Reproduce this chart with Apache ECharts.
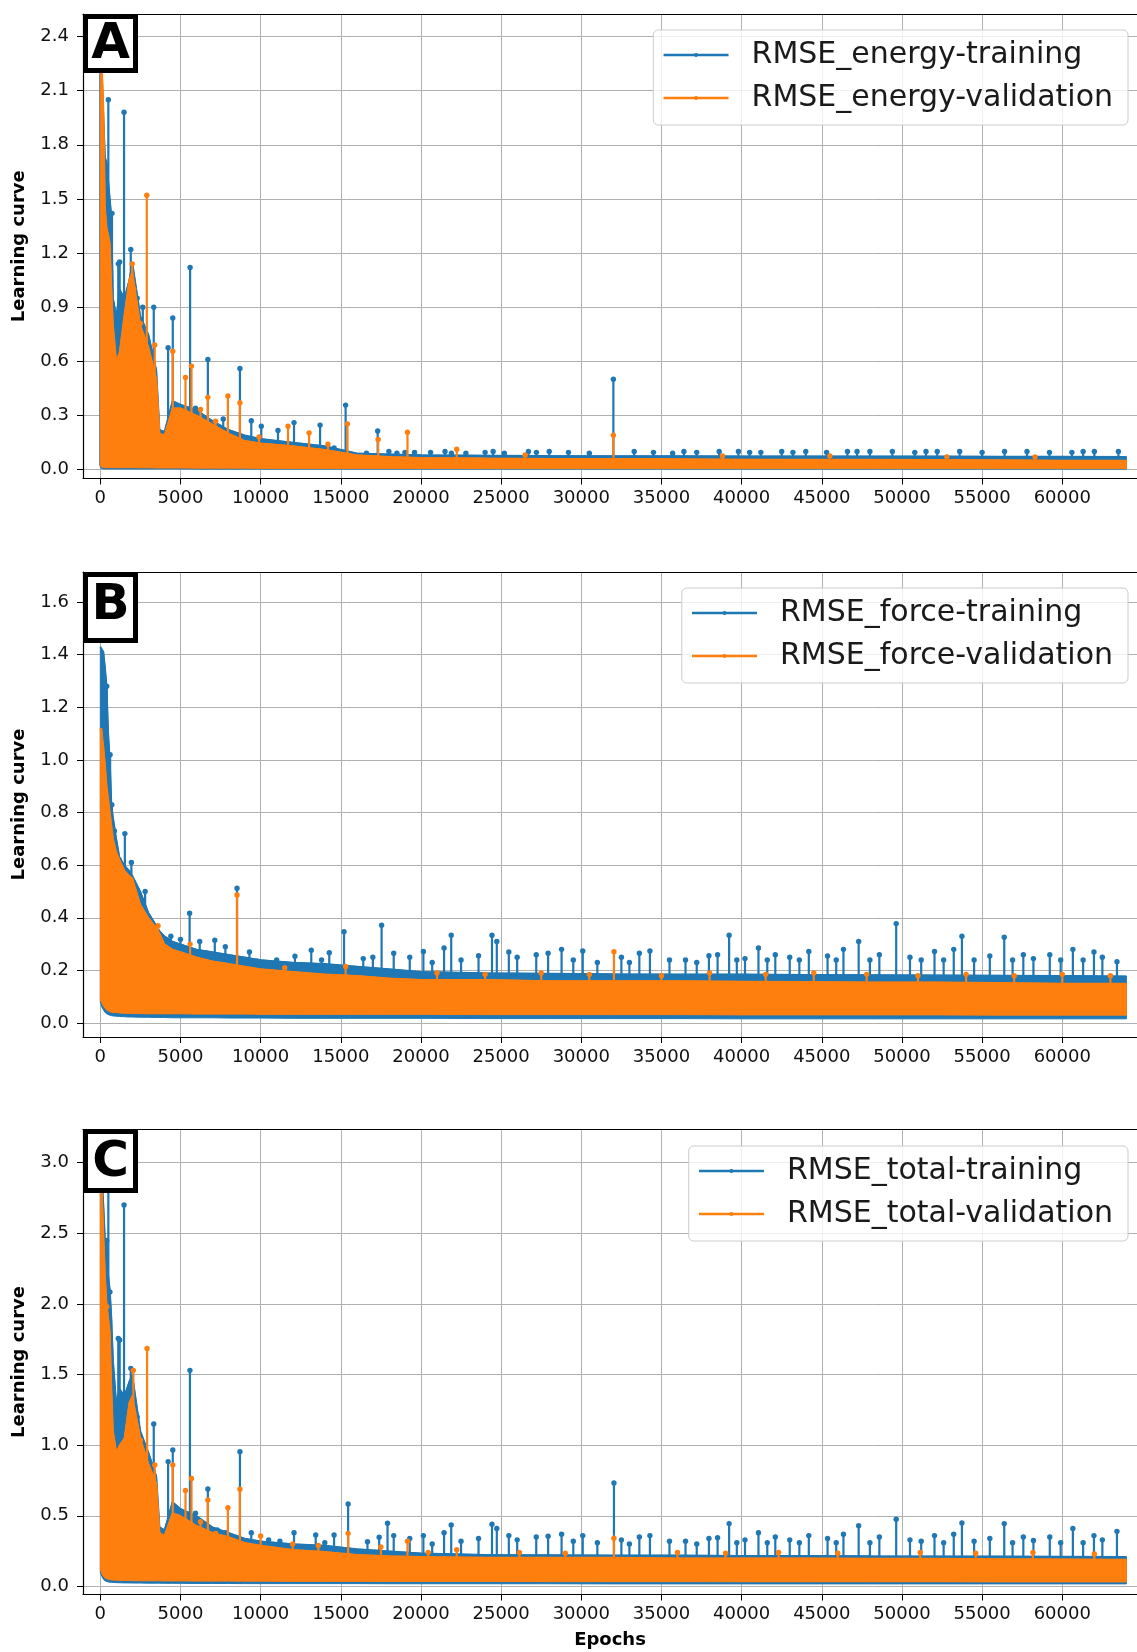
<!DOCTYPE html>
<html>
<head>
<meta charset="utf-8">
<script src="https://cdn.jsdelivr.net/npm/echarts@6/dist/echarts.min.js"></script>
<style>
html,body{margin:0;padding:0;background:#fff;}
#chart{width:1137px;height:1652px;}
</style>
</head>
<body>
<div id="chart"></div>
<script>
// ---------------- DATA ----------------
const xTicks = [0, 5000, 10000, 15000, 20000, 25000, 30000, 35000, 40000, 45000, 50000, 55000, 60000];
const yTicksA = [0, 0.3, 0.6, 0.9, 1.2, 1.5, 1.8, 2.1, 2.4];
const yTicksB = [0, 0.2, 0.4, 0.6, 0.8, 1.0, 1.2, 1.4, 1.6];
const yTicksC = [0, 0.5, 1.0, 1.5, 2.0, 2.5, 3.0];

const seriesNames = ['RMSE_energy-training', 'RMSE_energy-validation',
                     'RMSE_force-training', 'RMSE_force-validation',
                     'RMSE_total-training', 'RMSE_total-validation'];

// epochs at which the envelope of the dense noisy band was read
const bandEpochs = [0, 100, 200, 300, 400, 500, 600, 700, 800, 1000, 1200, 1500, 1800, 2000,
  2500, 3000, 3500, 3700, 4000, 4500, 5000, 6000, 7000, 8000, 9000, 10000, 12000, 14000,
  16000, 18000, 20000, 24000, 28000, 32000, 36000, 40000, 44000, 48000, 52000, 56000, 60000, 64000];

// ---- Panel A : energy ----
const energyTrainUpper = [2.40, 2.20, 1.95, 1.73, 1.70, 1.60, 1.50, 1.40, 0.95, 0.85, 1.00, 0.95, 1.05, 1.15,
  0.85, 0.75, 0.55, 0.22, 0.21, 0.38, 0.36, 0.33, 0.27, 0.22, 0.19, 0.17, 0.15, 0.13,
  0.09, 0.085, 0.08, 0.078, 0.076, 0.075, 0.075, 0.074, 0.074, 0.073, 0.073, 0.072, 0.072, 0.07];
const energyTrainLower = [0.01, 0.005, 0.003, 0.003, 0.003, 0.003, 0.003, 0.003, 0.003, 0.003, 0.003, 0.003, 0.003, 0.003,
  0.003, 0.003, 0.003, 0.003, 0.003, 0.003, 0.003, 0.002, 0.002, 0.002, 0.002, 0.002, 0.002, 0.002,
  0.002, 0.002, 0.002, 0.002, 0.002, 0.002, 0.002, 0.002, 0.002, 0.002, 0.002, 0.002, 0.002, 0.002];
const energyValidUpper = [2.30, 2.25, 2.00, 1.45, 1.34, 1.30, 1.25, 1.00, 0.80, 0.60, 0.65, 0.86, 1.05, 1.10,
  0.80, 0.68, 0.50, 0.20, 0.19, 0.34, 0.34, 0.30, 0.25, 0.20, 0.16, 0.145, 0.13, 0.11,
  0.08, 0.07, 0.065, 0.062, 0.06, 0.06, 0.058, 0.056, 0.055, 0.055, 0.054, 0.052, 0.05, 0.05];
const energyValidLower = [0.02, 0.012, 0.01, 0.01, 0.01, 0.01, 0.01, 0.01, 0.01, 0.01, 0.01, 0.01, 0.01, 0.01,
  0.009, 0.009, 0.008, 0.008, 0.008, 0.008, 0.008, 0.007, 0.007, 0.007, 0.007, 0.006, 0.006, 0.006,
  0.006, 0.006, 0.006, 0.005, 0.005, 0.005, 0.005, 0.005, 0.005, 0.005, 0.005, 0.005, 0.005, 0.005];
const energyTrainSpikes = [[0, 2.52], [500, 2.05], [729, 1.42], [1120, 1.14], [1208, 1.15], [1480, 1.98], [1900, 1.22],
  [2300, 0.95], [2650, 0.9], [3333, 0.90], [4229, 0.675], [4520, 0.84], [5600, 1.12], [5937, 0.34], [6708, 0.61],
  [7666, 0.28], [8708, 0.56], [9416, 0.27], [10040, 0.24], [10620, 0.15], [11082, 0.216], [12082, 0.26],
  [12500, 0.13], [13707, 0.246], [14580, 0.12], [15300, 0.357], [16600, 0.09], [17300, 0.213], [18000, 0.1],
  [18500, 0.09], [19000, 0.095], [19600, 0.095], [20600, 0.095], [21500, 0.1], [21900, 0.09], [22800, 0.09],
  [24000, 0.095], [24500, 0.1], [25200, 0.09], [26700, 0.1], [27200, 0.095], [28000, 0.1], [29200, 0.095],
  [30500, 0.09], [32000, 0.50], [33300, 0.1], [34500, 0.095], [35700, 0.09], [36400, 0.1], [37200, 0.095],
  [38600, 0.1], [39800, 0.1], [40500, 0.095], [41200, 0.095], [42500, 0.1], [43200, 0.095], [44000, 0.1],
  [45300, 0.095], [46600, 0.1], [47200, 0.1], [48000, 0.1], [49400, 0.1], [50800, 0.095], [51500, 0.1],
  [52200, 0.1], [53600, 0.1], [55000, 0.095], [56400, 0.1], [57800, 0.1], [59200, 0.095], [60600, 0.095],
  [61300, 0.1], [62000, 0.1], [63500, 0.1]];
const energyValidSpikes = [[1990, 1.14], [2083, 1.0], [2500, 0.81], [2900, 1.52], [3395, 0.69], [4520, 0.656],
  [5312, 0.51], [5687, 0.573], [6250, 0.333], [6708, 0.40], [7187, 0.268], [7957, 0.407], [8708, 0.37],
  [9900, 0.18], [11707, 0.24], [13020, 0.203], [14200, 0.14], [15415, 0.253], [17330, 0.166], [19160, 0.206],
  [22230, 0.112], [26500, 0.08], [32000, 0.19], [38800, 0.075], [45500, 0.075], [52800, 0.07], [58300, 0.07]];

// ---- Panel B : force ----
const forceTrainUpper = [1.43, 1.42, 1.41, 1.35, 1.28, 1.10, 1.00, 0.83, 0.78, 0.70, 0.63, 0.60, 0.58, 0.56,
  0.50, 0.42, 0.37, 0.35, 0.33, 0.31, 0.30, 0.28, 0.27, 0.26, 0.25, 0.24, 0.23, 0.225,
  0.215, 0.205, 0.195, 0.19, 0.188, 0.186, 0.185, 0.185, 0.184, 0.183, 0.182, 0.181, 0.18, 0.178];
const forceTrainLower = [0.08, 0.06, 0.05, 0.04, 0.035, 0.032, 0.03, 0.028, 0.027, 0.026, 0.025, 0.024, 0.023, 0.023,
  0.022, 0.022, 0.021, 0.021, 0.021, 0.02, 0.02, 0.02, 0.02, 0.019, 0.019, 0.019, 0.018, 0.018,
  0.018, 0.018, 0.018, 0.017, 0.017, 0.017, 0.017, 0.016, 0.016, 0.016, 0.016, 0.016, 0.016, 0.016];
const forceValidUpper = [1.12, 1.12, 1.05, 0.98, 0.90, 0.85, 0.80, 0.75, 0.70, 0.65, 0.62, 0.58, 0.56, 0.55,
  0.45, 0.40, 0.36, 0.34, 0.30, 0.28, 0.27, 0.25, 0.235, 0.225, 0.215, 0.205, 0.195, 0.185,
  0.18, 0.17, 0.165, 0.165, 0.16, 0.16, 0.16, 0.158, 0.157, 0.155, 0.155, 0.153, 0.15, 0.15];
const forceValidLower = [0.09, 0.075, 0.065, 0.055, 0.05, 0.045, 0.043, 0.041, 0.04, 0.04, 0.038, 0.037, 0.037, 0.036,
  0.036, 0.035, 0.035, 0.035, 0.035, 0.035, 0.035, 0.034, 0.034, 0.034, 0.034, 0.033, 0.033, 0.033,
  0.033, 0.033, 0.033, 0.032, 0.032, 0.032, 0.032, 0.031, 0.031, 0.031, 0.031, 0.03, 0.03, 0.03];
const forceTrainSpikes = [[400, 1.28], [612, 1.02], [714, 0.83], [877, 0.73], [1183, 0.62], [1530, 0.72], [1938, 0.61],
  [2795, 0.50], [3366, 0.34], [3978, 0.32], [4400, 0.33], [5000, 0.318], [5570, 0.417], [6200, 0.31], [7140, 0.315],
  [7800, 0.29], [8527, 0.512], [9300, 0.27], [9800, 0.235], [11000, 0.24], [12140, 0.254], [13158, 0.277],
  [13800, 0.24], [14280, 0.267], [15200, 0.347], [16400, 0.245], [17000, 0.25], [17544, 0.372], [18300, 0.265],
  [19300, 0.25], [20150, 0.272], [20700, 0.23], [21440, 0.285], [21886, 0.334], [22500, 0.24], [23590, 0.256],
  [24430, 0.334], [24730, 0.31], [25480, 0.27], [26000, 0.25], [27190, 0.26], [27930, 0.265], [28770, 0.28],
  [29500, 0.24], [30090, 0.274], [31000, 0.23], [32500, 0.25], [33000, 0.23], [33620, 0.265], [34280, 0.274],
  [35500, 0.24], [36500, 0.24], [37200, 0.23], [37960, 0.256], [38500, 0.26], [39220, 0.334], [39700, 0.24],
  [40210, 0.245], [41050, 0.285], [41600, 0.24], [42100, 0.26], [43000, 0.25], [43600, 0.24], [44190, 0.272],
  [45360, 0.255], [45900, 0.24], [46350, 0.28], [47300, 0.31], [48000, 0.24], [48590, 0.26], [49640, 0.378],
  [50500, 0.25], [51200, 0.24], [52030, 0.272], [52600, 0.24], [53230, 0.28], [53740, 0.33], [54500, 0.24],
  [55480, 0.255], [56380, 0.326], [56900, 0.24], [57570, 0.26], [58200, 0.245], [59220, 0.26], [59900, 0.24],
  [60660, 0.28], [61300, 0.24], [61975, 0.27], [62500, 0.25], [63410, 0.233]];
const forceValidSpikes = [[3600, 0.37], [5600, 0.30], [8527, 0.487], [11500, 0.21], [15300, 0.215], [21000, 0.19],
  [24000, 0.185], [27500, 0.19], [30500, 0.185], [32036, 0.271], [35000, 0.18], [38000, 0.19], [41500, 0.185],
  [44500, 0.19], [47800, 0.185], [51000, 0.18], [54000, 0.185], [57000, 0.18], [60000, 0.185], [63000, 0.18]];

// ---- Panel C : total ----
const totalTrainUpper = [3.00, 2.90, 2.70, 2.45, 2.45, 2.20, 2.10, 1.90, 1.60, 1.30, 1.40, 1.35, 1.45, 1.50,
  1.10, 0.95, 0.78, 0.42, 0.40, 0.60, 0.55, 0.50, 0.42, 0.38, 0.34, 0.32, 0.30, 0.29,
  0.265, 0.25, 0.235, 0.225, 0.222, 0.22, 0.22, 0.218, 0.217, 0.215, 0.214, 0.213, 0.212, 0.21];
const totalTrainLower = [0.1, 0.07, 0.05, 0.04, 0.035, 0.032, 0.03, 0.029, 0.028, 0.027, 0.026, 0.025, 0.025, 0.024,
  0.024, 0.023, 0.023, 0.023, 0.022, 0.022, 0.022, 0.021, 0.021, 0.021, 0.02, 0.02, 0.02, 0.02,
  0.02, 0.019, 0.019, 0.019, 0.019, 0.018, 0.018, 0.018, 0.018, 0.018, 0.018, 0.018, 0.018, 0.018];
const totalValidUpper = [2.90, 2.80, 2.50, 2.20, 2.00, 1.90, 1.80, 1.40, 1.10, 0.95, 1.00, 1.05, 1.30, 1.35,
  1.05, 0.87, 0.73, 0.38, 0.36, 0.52, 0.50, 0.43, 0.38, 0.35, 0.31, 0.29, 0.26, 0.245,
  0.225, 0.215, 0.21, 0.205, 0.205, 0.205, 0.20, 0.20, 0.20, 0.198, 0.197, 0.195, 0.193, 0.19];
const totalValidLower = [0.12, 0.09, 0.07, 0.06, 0.055, 0.05, 0.048, 0.046, 0.045, 0.044, 0.043, 0.042, 0.042, 0.041,
  0.04, 0.04, 0.04, 0.04, 0.039, 0.039, 0.039, 0.038, 0.038, 0.038, 0.037, 0.037, 0.036, 0.036,
  0.036, 0.035, 0.035, 0.035, 0.034, 0.034, 0.034, 0.033, 0.033, 0.033, 0.033, 0.032, 0.032, 0.032];
const totalTrainSpikes = [[400, 2.45], [500, 3.05], [600, 2.085], [1120, 1.756], [1208, 1.745], [1480, 2.70],
  [1900, 1.544], [2300, 1.2], [3333, 1.15], [4229, 0.884], [4520, 0.966], [5590, 1.53], [5937, 0.518], [6708, 0.69],
  [7291, 0.40], [7800, 0.38], [8708, 0.954], [9416, 0.381], [10500, 0.33], [11200, 0.32], [12082, 0.381],
  [13435, 0.364], [14000, 0.31], [14580, 0.364], [15456, 0.584], [16664, 0.317], [17393, 0.348], [17914, 0.447],
  [18300, 0.36], [19300, 0.34], [20150, 0.36], [20700, 0.3], [21440, 0.38], [21886, 0.435], [22500, 0.32],
  [23590, 0.34], [24430, 0.44], [24730, 0.41], [25480, 0.36], [26000, 0.33], [27190, 0.35], [27930, 0.355],
  [28770, 0.37], [29500, 0.32], [30090, 0.36], [31000, 0.31], [32036, 0.732], [32500, 0.33], [33000, 0.3],
  [33620, 0.35], [34280, 0.36], [35500, 0.32], [36500, 0.32], [37200, 0.3], [37960, 0.34], [38500, 0.345],
  [39220, 0.445], [39700, 0.31], [40210, 0.33], [41050, 0.38], [41600, 0.31], [42100, 0.35], [43000, 0.33],
  [43600, 0.31], [44190, 0.36], [45360, 0.34], [45900, 0.31], [46350, 0.37], [47300, 0.43], [48000, 0.31],
  [48590, 0.35], [49640, 0.476], [50500, 0.33], [51200, 0.32], [52030, 0.36], [52600, 0.31], [53230, 0.37],
  [53740, 0.45], [54500, 0.32], [55480, 0.34], [56380, 0.445], [56900, 0.31], [57570, 0.35], [58200, 0.325],
  [59220, 0.35], [59900, 0.31], [60660, 0.41], [61300, 0.31], [61975, 0.36], [62500, 0.33], [63410, 0.39]];
const totalValidSpikes = [[400, 1.98], [2060, 1.53], [2291, 0.966], [2500, 1.036], [2916, 1.685], [3395, 0.86],
  [4520, 0.86], [5312, 0.68], [5687, 0.765], [6250, 0.458], [6708, 0.612], [7187, 0.376], [7957, 0.557],
  [8708, 0.688], [10000, 0.357], [12000, 0.3], [13600, 0.29], [15456, 0.376], [17500, 0.28], [19160, 0.32],
  [20450, 0.24], [22230, 0.26], [26140, 0.24], [29000, 0.235], [32036, 0.342], [36000, 0.24], [39000, 0.235],
  [42300, 0.24], [46000, 0.235], [51140, 0.24], [54600, 0.235], [58170, 0.24], [62000, 0.23]];

// ---------------- LAYOUT / STYLE ----------------
const BLUE = '#1f77b4', ORANGE = '#ff7f0e', GRIDC = '#b0b0b0', FONT = 'DejaVu Sans';
const X_MIN = -1080, X_MAX = 64660;

const panels = [
  { label: 'A', top: 14, height: 464.5, yMin: -0.05, yMax: 2.525, yTicks: yTicksA, stalkFrom: 0.02,
    names: [seriesNames[0], seriesNames[1]],
    train: [energyTrainLower, energyTrainUpper, energyTrainSpikes],
    valid: [energyValidLower, energyValidUpper, energyValidSpikes],
    legendTop: 30, box: [85.5, 16.5, 50, 54], letterY: 45 },
  { label: 'B', top: 572, height: 465, yMin: -0.053, yMax: 1.714, yTicks: yTicksB, stalkFrom: 0.06,
    names: [seriesNames[2], seriesNames[3]],
    train: [forceTrainLower, forceTrainUpper, forceTrainSpikes],
    valid: [forceValidLower, forceValidUpper, forceValidSpikes],
    legendTop: 588, box: [85.5, 574.5, 50, 66], letterY: 606 },
  { label: 'C', top: 1129.5, height: 465, yMin: -0.057, yMax: 3.235, yTicks: yTicksC, stalkFrom: 0.07,
    names: [seriesNames[4], seriesNames[5]],
    train: [totalTrainLower, totalTrainUpper, totalTrainSpikes],
    valid: [totalValidLower, totalValidUpper, totalValidSpikes],
    legendTop: 1146, box: [85.5, 1131.5, 50, 59], letterY: 1163 }
];

const grids = [], xAxes = [], yAxes = [], series = [], legends = [], graphics = [];

// filled envelope of the dense oscillating curve, drawn through the axes' scales
function bandFill(name, lower, upper, color, gi, z) {
  const data = bandEpochs.map((e, i) => [e, lower[i], upper[i]]);
  return {
    type: 'custom', name: name + ' band', data: data, xAxisIndex: gi * 2, yAxisIndex: gi,
    z: z, silent: true, animation: false, clip: true,
    encode: { x: 0, y: [1, 2] },
    renderItem: function (params, api) {
      if (params.dataIndexInside !== 0) return null;
      const n = params.dataInsideLength;
      const pts = [];
      for (let j = 0; j < n; j++) pts.push(api.coord([api.value(0, j), api.value(2, j)]));
      for (let j = n - 1; j >= 0; j--) pts.push(api.coord([api.value(0, j), api.value(1, j)]));
      return { type: 'polygon', shape: { points: pts }, style: { fill: color, stroke: color, lineWidth: 1 } };
    }
  };
}

// upper edge of the curve (legend-bearing line series)
function edgeLine(name, upper, color, gi, z) {
  return {
    type: 'line', name: name, data: bandEpochs.map((e, i) => [e, upper[i]]),
    xAxisIndex: gi * 2, yAxisIndex: gi, z: z, silent: true, animation: false,
    symbol: 'circle', showSymbol: false, symbolSize: 4,
    lineStyle: { color: color, width: 1.5 }, itemStyle: { color: color }
  };
}

// isolated peaks of the curve: stalk rising from inside the band, dot at the peak
function spikeSeries(name, data, color, gi, z, stalkFrom) {
  return {
    type: 'custom', name: name, data: data, xAxisIndex: gi * 2, yAxisIndex: gi,
    z: z, silent: true, animation: false, clip: true,
    encode: { x: 0, y: 1 },
    renderItem: function (params, api) {
      const top = api.coord([api.value(0), api.value(1)]);
      const base = api.coord([api.value(0), stalkFrom]);
      return {
        type: 'group',
        children: [
          { type: 'line', shape: { x1: top[0], y1: base[1], x2: top[0], y2: top[1] },
            style: { stroke: color, lineWidth: 2.2 } },
          { type: 'circle', shape: { cx: top[0], cy: top[1], r: 2.7 }, style: { fill: color } }
        ]
      };
    }
  };
}

panels.forEach((p, gi) => {
  grids.push({ left: 83, right: 0, top: p.top, height: p.height, outerBoundsMode: 'none', containLabel: false });
  xAxes.push({
    gridIndex: gi, type: 'value', position: 'bottom', min: X_MIN, max: X_MAX,
    name: gi === 2 ? 'Epochs' : '', nameLocation: 'middle', nameGap: 37,
    nameTextStyle: { fontFamily: FONT, fontSize: 18, fontWeight: 'bold', color: '#000' },
    axisLine: { show: true, onZero: false, lineStyle: { color: '#000', width: 1.2 } },
    axisTick: { show: true, length: 6, inside: false, customValues: xTicks, lineStyle: { color: '#000', width: 1 } },
    axisLabel: { customValues: xTicks, fontFamily: FONT, fontSize: 18, color: '#111', margin: 11,
                 formatter: v => String(v) },
    splitLine: { show: true, lineStyle: { color: GRIDC, width: 1 } }
  });
  xAxes.push({
    gridIndex: gi, type: 'value', position: 'top', min: X_MIN, max: X_MAX,
    axisLine: { show: true, onZero: false, lineStyle: { color: '#000', width: 1.2 } },
    axisTick: { show: false }, axisLabel: { show: false }, splitLine: { show: false }
  });
  yAxes.push({
    gridIndex: gi, type: 'value', min: p.yMin, max: p.yMax,
    name: 'Learning curve', nameLocation: 'middle', nameGap: 55, nameRotate: 90,
    nameTextStyle: { fontFamily: FONT, fontSize: 18, fontWeight: 'bold', color: '#000' },
    axisLine: { show: true, onZero: false, lineStyle: { color: '#000', width: 1.2 } },
    axisTick: { show: true, length: 6, inside: false, customValues: p.yTicks, lineStyle: { color: '#000', width: 1 } },
    axisLabel: { customValues: p.yTicks, fontFamily: FONT, fontSize: 18, color: '#111', margin: 14,
                 formatter: v => Number(v).toFixed(1) },
    splitLine: { show: true, lineStyle: { color: GRIDC, width: 1 } }
  });

  series.push(bandFill(p.names[0], p.train[0], p.train[1], BLUE, gi, 2));
  series.push(edgeLine(p.names[0], p.train[1], BLUE, gi, 2));
  series.push(spikeSeries(p.names[0] + ' spikes', p.train[2], BLUE, gi, 3, p.stalkFrom));
  series.push(bandFill(p.names[1], p.valid[0], p.valid[1], ORANGE, gi, 4));
  series.push(edgeLine(p.names[1], p.valid[1], ORANGE, gi, 4));
  series.push(spikeSeries(p.names[1] + ' spikes', p.valid[2], ORANGE, gi, 5, p.stalkFrom));

  legends.push({
    orient: 'vertical', right: 9, top: p.legendTop, data: p.names, selectedMode: false,
    itemWidth: 65, itemHeight: 5, itemGap: 13, padding: [10, 15, 12, 9],
    backgroundColor: 'rgba(255,255,255,0.8)', borderColor: '#cccccc', borderWidth: 1, borderRadius: 5,
    lineStyle: { width: 2.5 },
    textStyle: { fontFamily: FONT, fontSize: 30, color: '#1a1a1a', padding: [0, 0, 0, 18] },
    z: 20
  });

  graphics.push(
    { type: 'rect', z: 100, zlevel: 1,
      shape: { x: p.box[0], y: p.box[1], width: p.box[2], height: p.box[3] },
      style: { fill: '#ffffff', stroke: '#000000', lineWidth: 5 } },
    { type: 'text', z: 101, zlevel: 1, x: p.box[0] + p.box[2] / 2, y: p.letterY,
      style: { text: p.label, fontFamily: FONT, fontSize: 50, fontWeight: 'bold', fill: '#000',
               align: 'center', verticalAlign: 'middle' } }
  );
});

const chart = echarts.init(document.getElementById('chart'), null, { renderer: 'canvas' });
chart.setOption({
  animation: false,
  backgroundColor: '#ffffff',
  grid: grids,
  xAxis: xAxes,
  yAxis: yAxes,
  legend: legends,
  series: series,
  graphic: graphics
});
</script>
</body>
</html>
